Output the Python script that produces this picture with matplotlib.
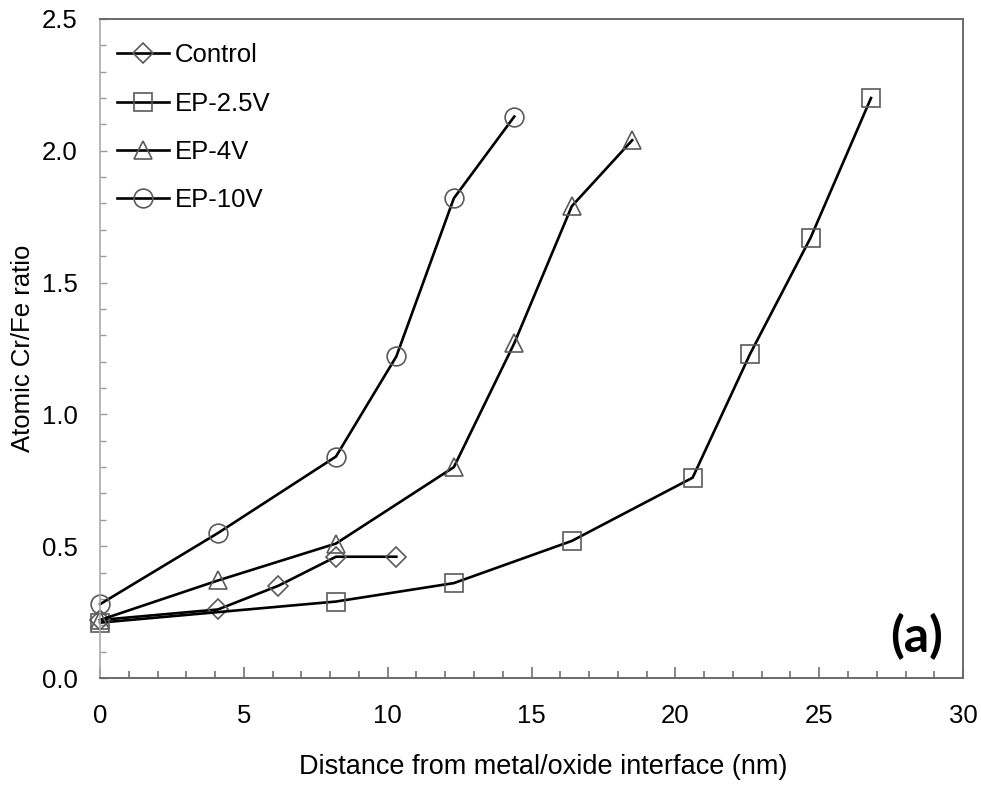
import matplotlib
matplotlib.use("Agg")
import matplotlib.pyplot as plt
from matplotlib.ticker import MultipleLocator

plt.rcParams['font.family'] = ['Liberation Sans', 'DejaVu Sans']

# data
control_x = [0, 4.1, 6.2, 8.2, 10.3]
control_y = [0.22, 0.26, 0.35, 0.46, 0.46]

ep25_x = [0, 8.2, 12.3, 16.4, 20.6, 22.6, 24.7, 26.8]
ep25_y = [0.21, 0.29, 0.36, 0.52, 0.76, 1.23, 1.67, 2.20]

ep4_x = [0, 4.1, 8.2, 12.3, 14.4, 16.4, 18.5]
ep4_y = [0.22, 0.37, 0.51, 0.80, 1.27, 1.79, 2.04]

ep10_x = [0, 4.1, 8.2, 10.3, 12.3, 14.4]
ep10_y = [0.28, 0.55, 0.84, 1.22, 1.82, 2.13]

series = [
    ("Control", control_x, control_y, "D", 10.0),
    ("EP-2.5V", ep25_x, ep25_y, "s", 13.5),
    ("EP-4V", ep4_x, ep4_y, "^", 13.5),
    ("EP-10V", ep10_x, ep10_y, "o", 13.5),
]

fig = plt.figure(figsize=(9.81, 7.87), dpi=100)
ax = fig.add_axes([0.102, 0.1385, 0.8797, 0.8374])

for name, x, y, m, ms in series:
    ax.plot(x, y, color='black', lw=1.9, marker=m, ms=ms, mfc='none',
            mec='#5a5a5a', mew=1.2, label=name, clip_on=False)

ax.set_xlim(0, 30)
ax.set_ylim(0, 2.5)
ax.xaxis.set_major_locator(MultipleLocator(5))
ax.xaxis.set_minor_locator(MultipleLocator(1))
ax.yaxis.set_major_locator(MultipleLocator(0.5))
ax.yaxis.set_minor_locator(MultipleLocator(0.1))
ax.yaxis.set_major_formatter(plt.FormatStrFormatter('%.1f'))

ax.tick_params(axis='x', which='major', direction='in', length=8, width=1.1,
               color='#666666', labelsize=18.5, pad=19)
ax.tick_params(axis='x', which='minor', direction='in', length=5, width=1.1,
               color='#666666')
ax.tick_params(axis='y', which='major', direction='in', length=5, width=1.0,
               color='#999999', labelsize=18.5, pad=16)
ax.tick_params(axis='y', which='minor', direction='in', length=4, width=1.0,
               color='#999999')

for side in ['top', 'right', 'bottom']:
    ax.spines[side].set_color('#6a6a6a')
    ax.spines[side].set_linewidth(1.4)
ax.spines['left'].set_color('#aaaaaa')
ax.spines['left'].set_linewidth(1.2)

ax.set_xlabel("Distance from metal/oxide interface (nm)", fontsize=19.5, labelpad=16)
ax.xaxis.set_label_coords(0.513, -0.115)
ax.set_ylabel("Atomic Cr/Fe ratio", fontsize=18.5, labelpad=5)

ax.legend(loc='upper left', bbox_to_anchor=(-0.008, 1.0), frameon=False,
          fontsize=18.5, handlelength=2.0, handletextpad=0.23,
          labelspacing=0.95, borderaxespad=0.54)

ax.text(29.3, 0.156, "(a)", fontsize=36, fontweight='bold', ha='right',
        va='center', family=['Lato', 'DejaVu Sans'])

fig.savefig("out.png", dpi=100)
